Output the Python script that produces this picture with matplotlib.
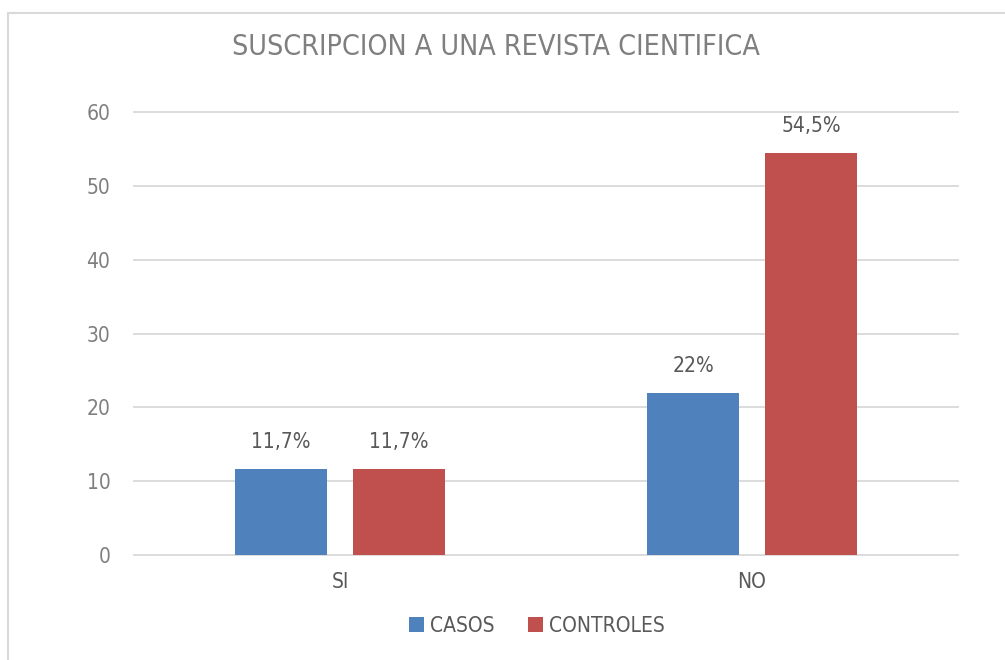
import matplotlib
matplotlib.use("Agg")
import matplotlib.pyplot as plt
import numpy as np
from matplotlib import font_manager
from matplotlib.patches import Rectangle

categories = ["SI", "NO"]
casos = [11.7, 22.0]
controles = [11.7, 54.5]
casos_labels = ["11,7%", "22%"]
controles_labels = ["11,7%", "54,5%"]

BLUE = "#4F81BD"
RED = "#C0504D"
GRID = "#D9D9D9"
TEXT = "#595959"
LIGHT = "#7F7F7F"

names = {f.name for f in font_manager.fontManager.ttflist}
if "Liberation Sans Narrow" in names:
    plt.rcParams["font.family"] = ["Liberation Sans Narrow", "DejaVu Sans"]
else:
    plt.rcParams["font.family"] = ["DejaVu Sans"]
    plt.rcParams["font.stretch"] = "condensed"

fig = plt.figure(figsize=(10.05, 6.6), dpi=100)
W, H = 1005, 660
ax = fig.add_axes([134 / W, 1 - 555 / H, (958 - 134) / W, (555 - 112) / H])

# chart frame
fig.patches.append(Rectangle((8 / W, -0.1), 1.2, 1 - 13 / H + 0.1,
                             transform=fig.transFigure, fill=False,
                             edgecolor=GRID, linewidth=1.5))

x = np.arange(len(categories))
width = 0.223
off = 0.143
b1 = ax.bar(x - off, casos, width, color=BLUE, label="CASOS", zorder=3)
b2 = ax.bar(x + off, controles, width, color=RED, label="CONTROLES", zorder=3)

for bars, labels in [(b1, casos_labels), (b2, controles_labels)]:
    for rect, lab in zip(bars, labels):
        ax.annotate(lab, (rect.get_x() + rect.get_width() / 2, rect.get_height()),
                    xytext=(0, 12), textcoords="offset points",
                    ha="center", va="bottom", fontsize=15, color=TEXT)

ax.set_xlim(-0.5, 1.5)
ax.set_ylim(0, 60)
ax.set_yticks(range(0, 61, 10))
ax.set_xticks(x)
ax.set_xticklabels(categories)
ax.tick_params(axis="both", length=0, labelsize=15, labelcolor=LIGHT)
ax.tick_params(axis="x", labelcolor=TEXT)
ax.tick_params(axis="y", pad=17)
ax.tick_params(axis="x", pad=12)
for v in range(0, 61, 10):
    ax.axhline(v, color=GRID, linewidth=1.3, zorder=0, clip_on=False)
for s in ax.spines.values():
    s.set_visible(False)

fig.text(496 / W, 1 - 47 / H, "SUSCRIPCION A UNA REVISTA CIENTIFICA",
         ha="center", va="center", fontsize=20.5, color=LIGHT)

fig.legend(handles=[b1, b2], loc="center", bbox_to_anchor=(537 / W, 1 - 626 / H),
           ncol=2, frameon=False, fontsize=15, labelcolor=TEXT,
           handlelength=0.7, handleheight=0.7, handletextpad=0.3,
           columnspacing=1.6)

fig.savefig("out.png", dpi=100)
